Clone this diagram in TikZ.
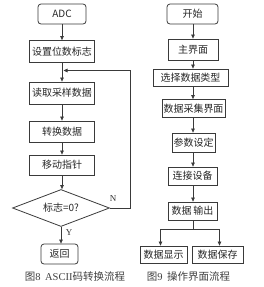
\documentclass[tikz,border=0pt]{standalone}
\usepackage{fontspec}
\setmainfont{Liberation Serif}
\newfontfamily\cjk{Noto Sans CJK SC}
\usetikzlibrary{shapes.geometric,arrows.meta}
\definecolor{lncol}{HTML}{3A3A3A}
\tikzset{
  box/.style={draw=lncol, line width=0.8pt, inner sep=0pt, font=\cjk\fontsize{10}{12}\selectfont, text=black!85},
  rbox/.style={box, rounded corners=3pt},
  arr/.style={draw=lncol, line width=0.7pt, -{Triangle[length=4pt,width=3.6pt]}},
  plainln/.style={draw=lncol, line width=0.7pt},
  captxt/.style={font=\fontsize{10.5}{12}\selectfont, text=black!75, inner sep=0pt},
  lbl/.style={font=\fontsize{9}{10}\selectfont, text=black!80}
}
\begin{document}
\begin{tikzpicture}[x=1pt,y=-1pt]
\useasboundingbox (0,0) rectangle (264,287);
% left chart
\node[rbox, minimum width=48pt, minimum height=20pt] (adc) at (62,14) {ADC};
\node[box, minimum width=65pt, minimum height=22pt] (s1) at (62,51.5) {设置位数标志};
\node[box, minimum width=65pt, minimum height=22pt] (s2) at (62,93) {读取采样数据};
\node[box, minimum width=65pt, minimum height=21pt] (s3) at (62,131.5) {转换数据};
\node[box, minimum width=65pt, minimum height=20pt] (s4) at (62,165) {移动指针};
\node[box, diamond, aspect=2.7, minimum width=97pt, minimum height=37pt] (d) at (61,208) {标志=0?};
\node[rbox, minimum width=37pt, minimum height=20pt] (ret) at (59.5,254) {返回};
\coordinate (lcol) at (61,0);
\coordinate (lp) at (63.5,70.5);
\coordinate (rc) at (130,208);
\coordinate (rt) at (130,70.5);
\draw[arr] (adc) -- (s1);
\draw[arr] (s1) -- (s2);
\draw[arr] (s2) -- (s3);
\draw[arr] (s3) -- (s4);
\draw[arr] (s4) -- (s4 |- d.north);
\draw[arr] (d.south -| lcol) -- (ret.north -| lcol);
\draw[arr] (d.east) -- (rc) -- (rt) -- (lp);
\node[lbl] (nl) at (113,199) {N};
\node[lbl] (yl) at (69,233) {Y};
\node[captxt] (c1) at (75,277) {{\cjk 图}8\, ASCII{\cjk 码转换流程}};
% right chart
\node[rbox, minimum width=51pt, minimum height=20pt] (ks) at (192.5,14) {开始};
\node[box, minimum width=50pt, minimum height=21pt] (zj) at (193,49.5) {主界面};
\node[box, minimum width=75pt, minimum height=17pt] (xz) at (190.5,77.5) {选择数据类型};
\node[box, minimum width=63pt, minimum height=18pt] (cj) at (193.5,108.5) {数据采集界面};
\node[box, minimum width=43pt, minimum height=19pt] (cs) at (193.5,142.5) {参数设定};
\node[box, minimum width=49pt, minimum height=18pt] (lj) at (192.5,176) {连接设备};
\node[box, minimum width=49pt, minimum height=18pt] (sc) at (192.5,211) {数据\,输出};
\node[box, minimum width=47pt, minimum height=17pt] (xs) at (163.5,254.5) {数据显示};
\node[box, minimum width=51pt, minimum height=17pt] (bc) at (217.5,254.5) {数据保存};
\coordinate (rcol) at (193,0);
\coordinate (br) at (193,229);
\coordinate (bl) at (160.5,229);
\coordinate (brr) at (219.5,229);
\draw[arr] (ks.south -| rcol) -- (zj.north -| rcol);
\draw[arr] (zj.south -| rcol) -- (xz.north -| rcol);
\draw[arr] (xz.south -| rcol) -- (cj.north -| rcol);
\draw[arr] (cj.south -| rcol) -- (cs.north -| rcol);
\draw[arr] (cs.south -| rcol) -- (lj.north -| rcol);
\draw[arr] (lj.south -| rcol) -- (sc.north -| rcol);
\draw[plainln] (sc.south -| rcol) -- (br);
\draw[arr] (br) -- (bl) -- (bl |- xs.north);
\draw[arr] (br) -- (brr) -- (brr |- bc.north);
\node[captxt] (c2) at (188.5,277) {{\cjk 图}9\, {\cjk 操作界面流程}};
\end{tikzpicture}
\end{document}
